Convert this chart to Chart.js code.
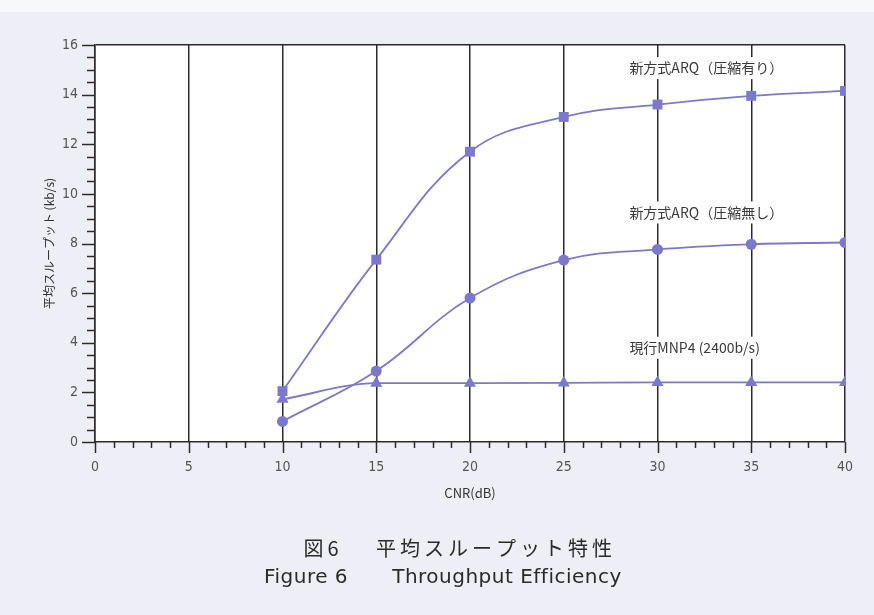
<!DOCTYPE html>
<html>
<head>
<meta charset="utf-8">
<script src="https://cdn.jsdelivr.net/npm/chart.js@4.4.1/dist/chart.umd.min.js"></script>
<style>
html,body{margin:0;padding:0;background:#eeeff6;}
#wrap{position:relative;width:874px;height:615px;}
</style>
</head>
<body>
<div id="wrap"><canvas id="c" width="874" height="615"></canvas></div>
<script>
// ---- data ----
const cnr = [10, 15, 20, 25, 30, 35, 40];
const arqCompressed = [2.05, 7.35, 11.7, 13.1, 13.6, 13.95, 14.15];
const arqUncompressed = [0.83, 2.86, 5.8, 7.33, 7.76, 7.97, 8.04];
const mnp4 = [1.72, 2.37, 2.37, 2.38, 2.4, 2.4, 2.4];
const seriesLabels = ['新方式ARQ（圧縮有り）', '新方式ARQ（圧縮無し）', '現行MNP4 (2400b/s)'];
const labelAnchors = [[28.5, 15.07], [28.5, 9.25], [28.5, 3.8]];
const yTitle = '平均スループット (kb/s)';
const xTitle = 'CNR(dB)';
const captionJa = ['図6', '平均スループット特性'];
const captionEn = ['Figure 6', 'Throughput Efficiency'];

const LINE = 'rgb(124,120,204)';
const DARK = '#2e2a2b';
const TICKTXT = '#555';
const FONT = '"DejaVu Sans Condensed", "Liberation Sans Narrow", "Noto Sans CJK JP", sans-serif';
const JFONT = '"Noto Sans CJK JP", sans-serif';

function pts(ys){ return cnr.map((x,i)=>({x:x,y:ys[i]})); }

const bgPlugin = {
  id:'bg',
  beforeDraw(chart){
    const {ctx, chartArea:a} = chart;
    ctx.save();
    ctx.fillStyle = '#eeeff6';
    ctx.fillRect(0,0,chart.width,chart.height);
    ctx.fillStyle = '#f8f8fa';
    ctx.fillRect(0,0,chart.width,12);
    ctx.fillStyle = '#ffffff';
    ctx.fillRect(a.left,a.top,a.right-a.left,a.bottom-a.top);
    ctx.restore();
  }
};

const ticksPlugin = {
  id:'ticksp',
  afterDraw(chart){
    const {ctx, chartArea:a} = chart;
    const xs = chart.scales.x, ys = chart.scales.y;
    ctx.save();
    ctx.strokeStyle = DARK;
    ctx.lineWidth = 1.5;
    for(let v=0; v<=16.001; v+=0.5){
      const y = Math.round(ys.getPixelForValue(v))+0.5;
      const len = (Math.abs(v/2-Math.round(v/2))<1e-6) ? 13 : 8;
      ctx.beginPath(); ctx.moveTo(a.left-len,y); ctx.lineTo(a.left,y); ctx.stroke();
    }
    for(let v=0; v<=40; v+=1){
      const x = Math.round(xs.getPixelForValue(v))+0.5;
      const len = (v%5===0) ? 11 : 6;
      ctx.beginPath(); ctx.moveTo(x,a.bottom); ctx.lineTo(x,a.bottom+len); ctx.stroke();
    }
    // captions
    ctx.fillStyle = '#2a2a2a';
    ctx.textAlign = 'center';
    ctx.textBaseline = 'middle';
    ctx.font = '20px ' + JFONT;
    ctx.letterSpacing = '4px';
    ctx.fillText(captionJa[0], 323, 548);
    ctx.fillText(captionJa[1], 496, 548);
    ctx.font = '20px "DejaVu Sans", "Noto Sans CJK JP", sans-serif';
    ctx.letterSpacing = '0.5px';
    ctx.fillText(captionEn[0], 306, 578);
    ctx.fillText(captionEn[1], 507, 578);
    ctx.restore();
  }
};

const labelPlugin = {
  id:'serieslabels',
  beforeDatasetsDraw(chart){
    const {ctx} = chart;
    const xs = chart.scales.x, ys = chart.scales.y;
    ctx.save();
    ctx.font = '14px ' + JFONT;
    ctx.textBaseline = 'middle';
    ctx.textAlign = 'left';
    seriesLabels.forEach((t,i)=>{
      const x = xs.getPixelForValue(labelAnchors[i][0]);
      const y = ys.getPixelForValue(labelAnchors[i][1]);
      const w = ctx.measureText(t).width;
      ctx.fillStyle = '#ffffff';
      ctx.fillRect(x-4, y-11, w+8, 22);
      ctx.fillStyle = '#3a3a3a';
      ctx.fillText(t, x, y);
    });
    ctx.restore();
  }
};

const common = {
  borderColor: LINE, backgroundColor: LINE, borderWidth: 1.8, pointBorderWidth: 0
};

new Chart(document.getElementById('c'), {
  type:'line',
  data:{
    datasets:[
      Object.assign({label:seriesLabels[0], data:pts(arqCompressed), pointStyle:'rect', pointRadius:7, tension:0.4}, common),
      Object.assign({label:seriesLabels[1], data:pts(arqUncompressed), pointStyle:'circle', pointRadius:5.5, tension:0.4}, common),
      Object.assign({label:seriesLabels[2], data:pts(mnp4), pointStyle:'triangle', pointRadius:7, cubicInterpolationMode:'monotone'}, common)
    ]
  },
  options:{
    responsive:false, animation:false,
    layout:{padding:{top:45,right:29,left:0,bottom:0}},
    plugins:{legend:{display:false}, tooltip:{enabled:false}},
    scales:{
      x:{
        type:'linear', min:0, max:40,
        afterFit(s){ s.height = 615-442; },
        ticks:{stepSize:5, padding:17, color:TICKTXT, font:{family:FONT, size:14}},
        grid:{color:DARK, lineWidth:1.5, drawTicks:false},
        border:{display:true, color:DARK, width:1.5},
        title:{display:true, text:xTitle, color:'#333', font:{family:JFONT, size:13}, padding:{top:0,bottom:114}}
      },
      y:{
        min:0, max:16,
        afterFit(s){ s.width = 95; },
        ticks:{stepSize:2, padding:17, color:TICKTXT, font:{family:FONT, size:14}},
        grid:{color:(c)=> (c.tick && c.tick.value===16) ? DARK : 'rgba(0,0,0,0)', lineWidth:1.5, drawTicks:false},
        border:{display:true, color:DARK, width:1.5},
        title:{display:true, text:yTitle, color:'#333', font:{family:JFONT, size:12}, padding:{top:42,bottom:0}}
      }
    }
  },
  plugins:[bgPlugin, labelPlugin, ticksPlugin]
});
</script>
</body>
</html>
